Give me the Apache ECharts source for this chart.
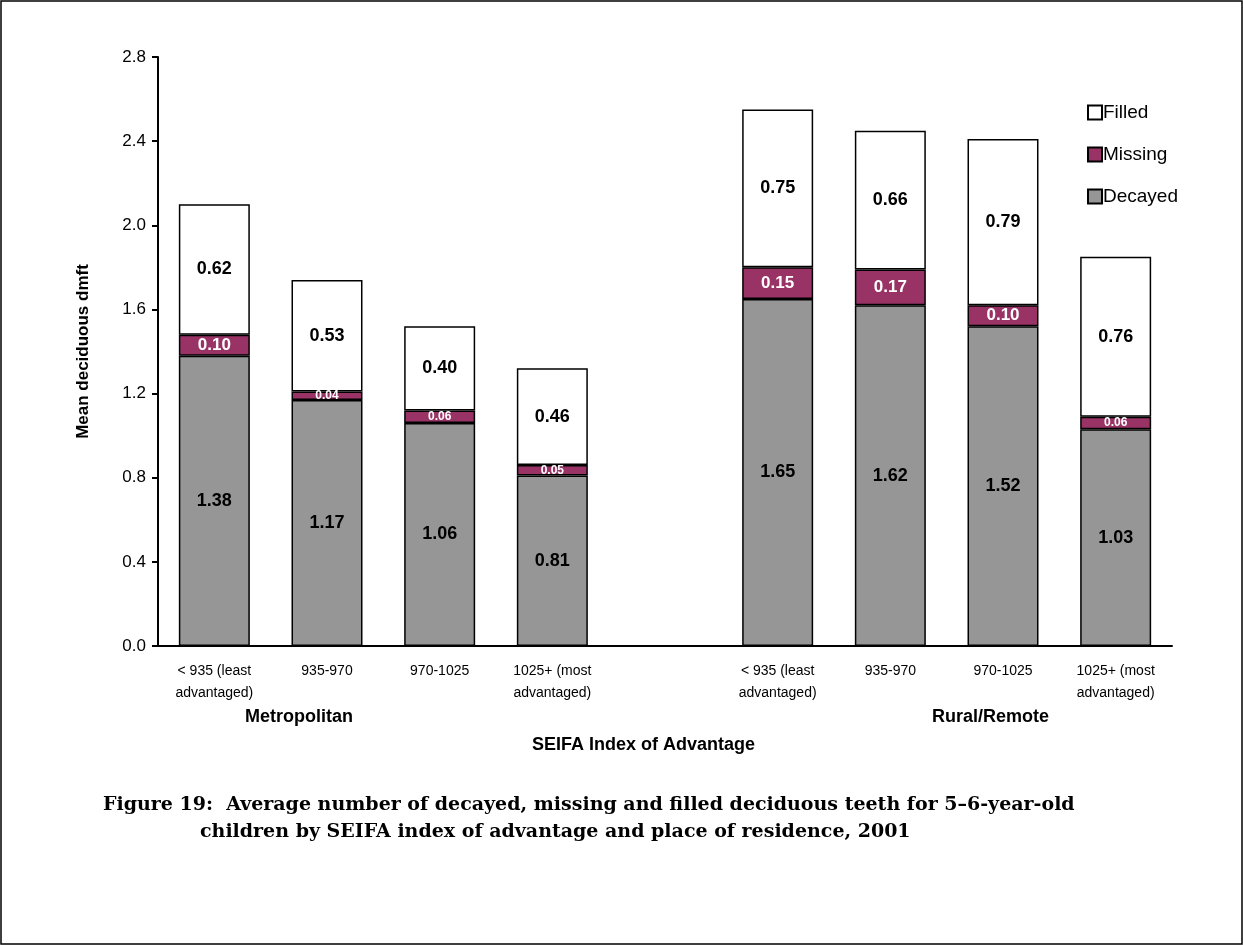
<!DOCTYPE html>
<html><head><meta charset="utf-8">
<script src="https://cdn.jsdelivr.net/npm/echarts@6/dist/echarts.min.js"></script>
<style>html,body{margin:0;padding:0;background:#fff}#c{width:1243px;height:945px}</style>
</head><body><div id="c"></div>
<script>
var categories = ['< 935 (least\nadvantaged)', '935-970', '970-1025', '1025+ (most\nadvantaged)', '',
                  '< 935 (least\nadvantaged)', '935-970', '970-1025', '1025+ (most\nadvantaged)'];
var decayed = [1.38, 1.17, 1.06, 0.81, '-', 1.65, 1.62, 1.52, 1.03];
var missing = [0.10, 0.04, 0.06, 0.05, '-', 0.15, 0.17, 0.10, 0.06];
var filled = [0.62, 0.53, 0.40, 0.46, '-', 0.75, 0.66, 0.79, 0.76];
var yTicks = [0, 0.4, 0.8, 1.2, 1.6, 2.0, 2.4, 2.8];

var font = 'Arial, "Liberation Sans", sans-serif';
var chart = echarts.init(document.getElementById('c'));
function lbl(color, size){
    return {show: true, position: 'inside', color: color, fontWeight: 'bold', fontSize: size, fontFamily: font,
        formatter: function(p){ return p.value.toFixed(2); }};
}
var missingData = missing.map(function(v){
    return v === '-' ? v : {value: v, label: {fontSize: v < 0.08 ? 12 : 17}};
});
chart.setOption({
    animation: false,
    grid: {left: 158, right: 71, top: 57, bottom: 299},
    legend: {
        data: ['Filled', 'Missing', 'Decayed'], orient: 'vertical', right: 60, top: 98, itemGap: 23,
        icon: 'rect', itemWidth: 14, itemHeight: 14,
        textStyle: {fontFamily: font, fontSize: 19, color: '#000', padding: [0, 0, 0, -4]}
    },
    xAxis: {
        type: 'category', data: categories,
        axisLine: {lineStyle: {color: '#000', width: 2}},
        axisTick: {lineStyle: {color: '#000', width: 2}, length: 6},
        axisLabel: {color: '#000', fontFamily: font, fontSize: 14, lineHeight: 22, margin: 14, interval: 0}
    },
    yAxis: {
        type: 'value', min: 0, max: 2.8, interval: 0.4,
        name: 'Mean deciduous dmft', nameLocation: 'middle', nameGap: 66,
        nameTextStyle: {fontFamily: font, fontSize: 17, fontWeight: 'bold', color: '#000'},
        axisLine: {show: true, lineStyle: {color: '#000', width: 2}},
        axisTick: {show: true, lineStyle: {color: '#000', width: 2}, length: 6},
        splitLine: {show: false},
        axisLabel: {color: '#000', fontFamily: font, fontSize: 17, margin: 12,
            formatter: function(v){ return yTicks.indexOf(+v.toFixed(1)) >= 0 ? v.toFixed(1) : ''; }}
    },
    series: [
        {name: 'Decayed', type: 'bar', stack: 's', data: decayed, barWidth: '63%',
         itemStyle: {color: '#969696', borderColor: '#000', borderWidth: 1.5}, label: lbl('#000', 18)},
        {name: 'Missing', type: 'bar', stack: 's', data: missingData,
         itemStyle: {color: '#993366', borderColor: '#000', borderWidth: 1.5}, label: lbl('#fff', 17)},
        {name: 'Filled', type: 'bar', stack: 's', data: filled,
         itemStyle: {color: '#fff', borderColor: '#000', borderWidth: 1.5}, label: lbl('#000', 18)}
    ],
    graphic: [
        {type: 'rect', shape: {x: 1, y: 1, width: 1241, height: 943}, style: {fill: 'none', stroke: '#000', lineWidth: 1.5}},
        {type: 'text', left: 245, top: 708, style: {text: 'Metropolitan', font: 'bold 18px ' + font, fill: '#000'}},
        {type: 'text', left: 932, top: 708, style: {text: 'Rural/Remote', font: 'bold 18px ' + font, fill: '#000'}},
        {type: 'text', left: 532, top: 736, style: {text: 'SEIFA Index of Advantage', font: 'bold 18px ' + font, fill: '#000'}},
        {type: 'text', left: 103, top: 796, style: {text: 'Figure 19:  Average number of decayed, missing and filled deciduous teeth for 5\u20136-year-old', font: 'bold 19px "DejaVu Serif", serif', fill: '#000'}},
        {type: 'text', left: 200, top: 823, style: {text: 'children by SEIFA index of advantage and place of residence, 2001', font: 'bold 19px "DejaVu Serif", serif', fill: '#000'}}
    ]
});
</script></body></html>
